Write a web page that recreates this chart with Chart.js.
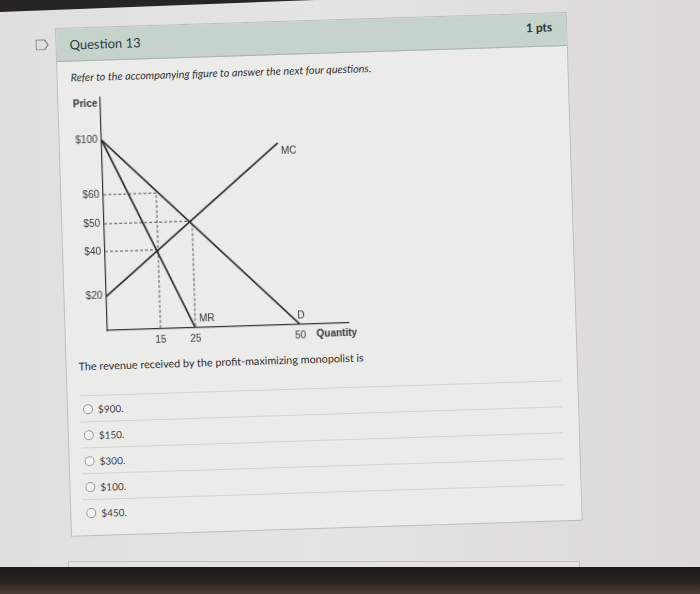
<!DOCTYPE html>
<html>
<head>
<meta charset="utf-8">
<title>Question 13</title>
<script src="https://cdn.jsdelivr.net/npm/chart.js@4.4.1/dist/chart.umd.min.js"></script>
<style>
  html, body { margin: 0; padding: 0; }
  body {
    width: 700px; height: 594px; overflow: hidden; position: relative;
    background: linear-gradient(90deg, #dfdfdd 0%, #e4e4e2 45%, #dad9d6 100%);
    font-family: Lato, "Open Sans", sans-serif; color: #2d3b45;
  }
  .top-bezel {
    position: absolute; left: 0; top: 0; width: 315px; height: 12px;
    background: #262524; clip-path: polygon(0 0, 100% 0, 0 100%);
  }
  .next-card {
    position: absolute; left: 68px; top: 561px; width: 510px; height: 8px;
    background: #e3e3e1; border: 1px solid #c2c2c0; border-bottom: none;
  }
  .bottom-bezel {
    position: absolute; left: 0; top: 567px; width: 700px; height: 27px;
    background: linear-gradient(#1b1919, #2a2321 55%, #4b3c37);
  }
  #card {
    position: absolute; left: 55px; top: 28px; width: 512px; height: 509px;
    box-sizing: border-box; background: #ebebe9; border: 1px solid #bcbcba;
    transform: rotate(-1.8deg); transform-origin: 0 0;
  }
  .header {
    position: absolute; left: 0; top: 0; right: 0; height: 32px;
    background: #c5d3cb; border-bottom: 1px solid #a8b4ad;
  }
  .header .title { position: absolute; left: 13px; top: 0; line-height: 32px; font-size: 13px; }
  .header .pts { position: absolute; right: 14px; top: -2px; line-height: 32px; font-size: 12px; font-weight: bold; color: #333; }
  .flag { position: absolute; left: -21px; top: 10px; }
  .intro {
    position: absolute; left: 13px; top: 42px; line-height: 14px;
    font-size: 10.8px; font-style: italic; color: #333;
  }
  .figure { position: absolute; left: 0; top: 60px; }
  .prompt { position: absolute; left: 12px; top: 331px; line-height: 14px; font-size: 10.8px; color: #2e2e2e; }
  .answers { position: absolute; left: 12px; top: 367px; width: 482px; }
  .answer {
    height: 25px; border-top: 1px solid #d2d2d0; position: relative;
    font-size: 10px; color: #444; line-height: 26px;
  }
  .answer .dot {
    position: absolute; left: 3px; top: 8px; width: 8px; height: 8px;
    border: 1px solid #9a9a9a; border-radius: 50%; background: #f2f2f0;
  }
  .answer span { position: absolute; left: 18px; top: 0; }
</style>
</head>
<body>
<div class="top-bezel"></div>

<div id="card">
  <svg class="flag" width="14" height="11" viewBox="0 0 14 11">
    <polygon points="0.5,0.5 9,0.5 12.5,5.5 9,10.5 0.5,10.5" fill="none" stroke="#7a7a7a" stroke-width="1"/>
  </svg>
  <div class="header">
    <div class="title">Question 13</div>
    <div class="pts">1 pts</div>
  </div>
  <div class="intro">Refer to the accompanying figure to answer the next four questions.</div>
  <div class="figure"><canvas id="figure" width="320" height="265"></canvas></div>
  <div class="prompt">The revenue received by the profit-maximizing monopolist is</div>
  <div class="answers" id="answers"></div>
</div>

<div class="next-card"></div>
<div class="bottom-bezel"></div>

<script>
// tick labels printed on the figure
const quantityTicks = [15, 25, 50];
const priceTicks = [20, 40, 50, 60, 100];

// curves (quantity, price)
const demandQ = [0, 50];
const demandP = [100, 0];
const mrQ = [0, 25];
const mrP = [100, 0];
const mcQ = [0, 46];
const mcP = [20, 94];

// dashed guide lines
const guide60Q = [0, 15, 15];
const guide60P = [60, 60, 0];
const guide50Q = [0, 25, 25];
const guide50P = [50, 50, 0];
const guide40Q = [0, 15];
const guide40P = [40, 40];

const answerChoices = ['$900.', '$150.', '$300.', '$100.', '$450.'];

// the textbook axes are not evenly spaced: value -> fraction of the axis
const quantityStops = [[0, 0], [15, 0.22], [25, 0.365], [50, 0.80], [61.5, 1]];
const priceStops = [[0, 0], [20, 0.147], [40, 0.339], [50, 0.458], [60, 0.583], [100, 0.817], [131, 1]];

// answer list
const answers = document.getElementById('answers');
answerChoices.forEach(text => {
  const row = document.createElement('div');
  row.className = 'answer';
  row.innerHTML = '<div class="dot"></div><span></span>';
  row.querySelector('span').textContent = text;
  answers.appendChild(row);
});

// linear scale that follows the figure's uneven spacing
class StretchedScale extends Chart.LinearScale {
  stops() {
    return this.isHorizontal() ? quantityStops : priceStops;
  }
  getPixelForValue(value) {
    if (value === null || value === undefined || isNaN(value)) return NaN;
    const s = this.stops();
    let i = 1;
    while (i < s.length - 1 && value > s[i][0]) i++;
    const [v0, d0] = s[i - 1];
    const [v1, d1] = s[i];
    return this.getPixelForDecimal(d0 + (value - v0) / (v1 - v0) * (d1 - d0));
  }
  getValueForPixel(pixel) {
    const d = this.getDecimalForPixel(pixel);
    const s = this.stops();
    let i = 1;
    while (i < s.length - 1 && d > s[i][1]) i++;
    const [v0, d0] = s[i - 1];
    const [v1, d1] = s[i];
    return v0 + (d - d0) / (d1 - d0) * (v1 - v0);
  }
}
StretchedScale.id = 'stretched';
Chart.register(StretchedScale);

function toPoints(qs, ps) {
  return qs.map((q, i) => ({ x: q, y: ps[i] }));
}

const curveStyle = { borderColor: '#2a2a2a', borderWidth: 1.7, pointRadius: 0, showLine: true, fill: false };
const guideStyle = { borderColor: '#555', borderWidth: 1, borderDash: [3, 2], pointRadius: 0, showLine: true, fill: false };

// names written next to the curve ends
const curveTags = {
  id: 'curveTags',
  afterDatasetsDraw(chart) {
    const ctx = chart.ctx;
    const area = chart.chartArea;
    const xs = chart.scales.x;
    ctx.save();
    ctx.fillStyle = '#333';
    ctx.textBaseline = 'middle';
    ctx.font = '10px "Liberation Sans", Arial, sans-serif';
    chart.data.datasets.forEach((ds, i) => {
      if (!ds.tag) return;
      const pts = chart.getDatasetMeta(i).data;
      const end = pts[pts.length - 1];
      ctx.textAlign = ds.tag.align;
      ctx.fillText(ds.label, end.x + ds.tag.dx, end.y + ds.tag.dy);
    });
    ctx.font = 'bold 10px "Liberation Sans", Arial, sans-serif';
    ctx.textAlign = 'right';
    ctx.fillText('Price', area.left - 3, area.top + 6);
    ctx.textAlign = 'left';
    ctx.fillText('Quantity', xs.getPixelForValue(quantityTicks[quantityTicks.length - 1]) + 16, xs.top + 10);
    ctx.restore();
  }
};

Chart.defaults.font.family = '"Liberation Sans", Arial, sans-serif';
Chart.defaults.font.size = 10;
Chart.defaults.color = '#3a3a3a';

new Chart(document.getElementById('figure'), {
  type: 'scatter',
  data: {
    datasets: [
      Object.assign({ label: 'D', data: toPoints(demandQ, demandP), tag: { align: 'center', dx: 1, dy: -9 } }, curveStyle),
      Object.assign({ label: 'MR', data: toPoints(mrQ, mrP), tag: { align: 'left', dx: 4, dy: -9 } }, curveStyle),
      Object.assign({ label: 'MC', data: toPoints(mcQ, mcP), tag: { align: 'left', dx: 3, dy: 8 } }, curveStyle),
      Object.assign({ label: 'guide60', data: toPoints(guide60Q, guide60P) }, guideStyle),
      Object.assign({ label: 'guide50', data: toPoints(guide50Q, guide50P) }, guideStyle),
      Object.assign({ label: 'guide40', data: toPoints(guide40Q, guide40P) }, guideStyle)
    ]
  },
  options: {
    responsive: false,
    animation: false,
    events: [],
    layout: { padding: { left: 0, top: 8, right: 37, bottom: 2 } },
    plugins: { legend: { display: false }, tooltip: { enabled: false } },
    scales: {
      x: {
        type: 'stretched', position: 'bottom', min: 0, max: 61.5, bounds: 'data',
        grid: { display: false, drawTicks: false },
        border: { display: true, color: '#333', width: 1.2 },
        afterBuildTicks: axis => { axis.ticks = quantityTicks.map(v => ({ value: v })); },
        afterFit: axis => { axis.height = 20; },
        ticks: { autoSkip: false, maxRotation: 0, padding: 5, callback: v => String(v) }
      },
      y: {
        type: 'stretched', position: 'left', min: 0, max: 131, bounds: 'data',
        grid: { display: false, drawTicks: false },
        border: { display: true, color: '#333', width: 1.2 },
        afterBuildTicks: axis => { axis.ticks = priceTicks.map(v => ({ value: v })); },
        afterFit: axis => { axis.width = 42; },
        ticks: { autoSkip: false, padding: 4, callback: v => '$' + v }
      }
    }
  },
  plugins: [curveTags]
});
</script>
</body>
</html>
